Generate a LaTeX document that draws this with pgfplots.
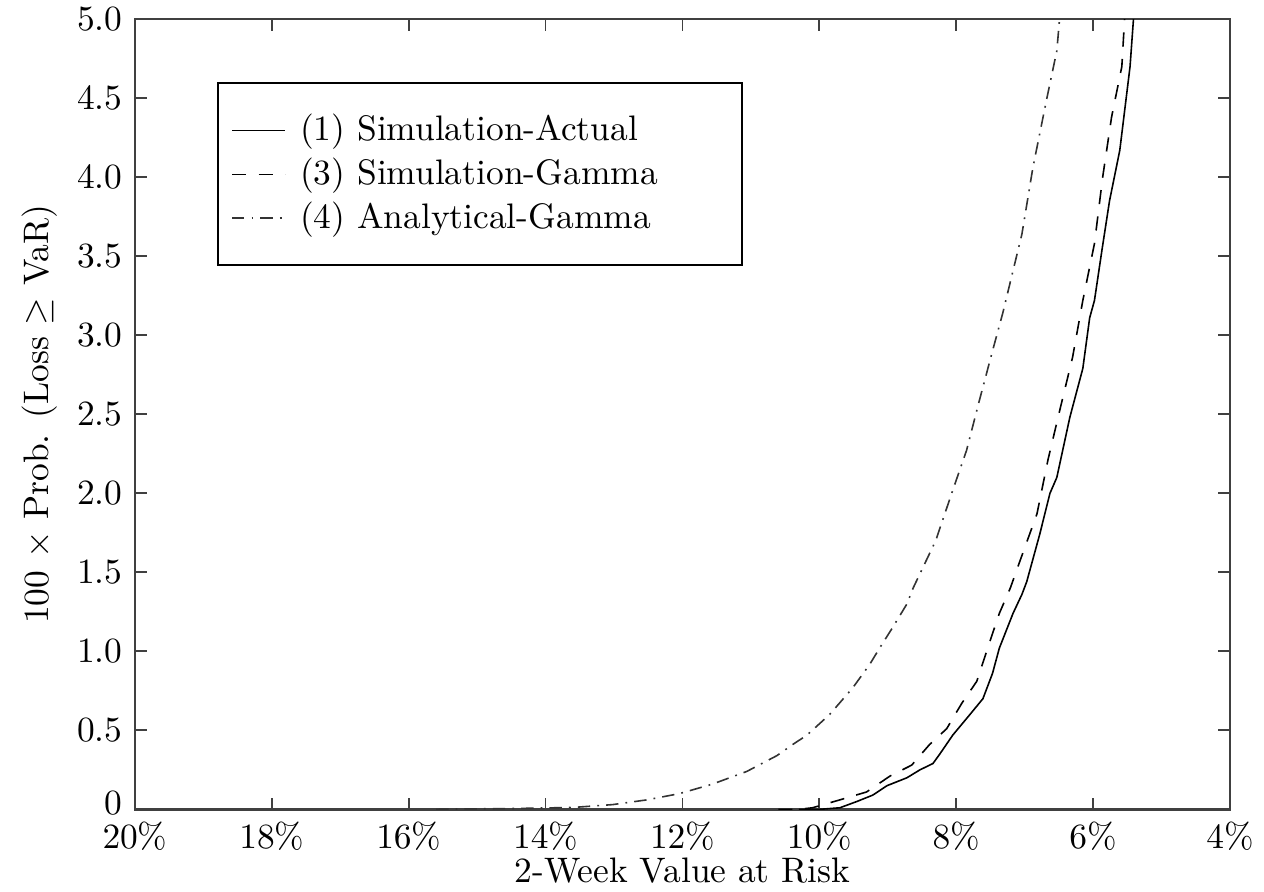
\documentclass[border=0pt]{standalone}
\usepackage{pgfplots}
\pgfplotsset{compat=1.18}

\begin{document}
\begin{tikzpicture}
\begin{axis}[
  scale only axis, width=309pt, height=223pt,
  x dir=reverse,
  xmin=4, xmax=20, ymin=0, ymax=5,
  xtick={4,6,8,10,12,14,16,18,20},
  xticklabel={\pgfmathprintnumber{\tick}\%},
  ytick={0,0.5,1,1.5,2,2.5,3,3.5,4,4.5,5},
  yticklabels={\raisebox{4pt}{0},0.5,1.0,1.5,2.0,2.5,3.0,3.5,4.0,4.5,5.0},
  xlabel={2-Week Value at Risk},
  ylabel={100 $\times$ Prob. (Loss $\geq$ VaR)},
  xlabel style={at={(axis description cs:0.5,-0.078)}, anchor=center},
  ylabel style={at={(axis description cs:-0.087,0.5)}, anchor=center},
  axis line style={line width=0.7pt, black!75},
  major tick length=3.3pt,
  tick style={black!75, line width=0.5pt},
  legend cell align=left,
  legend style={at={(axis description cs:0.075,0.92)}, anchor=north west,
    draw=black, line width=0.6pt, inner xsep=3.7pt, inner ysep=7.75pt,
    row sep=1.4pt, nodes={inner xsep=4pt, inner ysep=1pt, text depth=0.15em},
    /tikz/every even column/.append style={text width=117pt}},
  legend image code/.code={\draw[#1] (0pt,0pt) -- (15pt,0pt);},
]
% (1) simulation, actual returns
\addplot[black, line width=0.45pt] coordinates {
(10.3,0) (10.0,0.0) (9.70,0.01) (9.45,0.05) (9.22,0.09) (9.01,0.15)
(8.72,0.20) (8.53,0.25) (8.34,0.29) (8.24,0.35) (8.05,0.47) (7.80,0.60)
(7.61,0.70) (7.47,0.86) (7.37,1.02) (7.17,1.24) (7.04,1.36) (6.97,1.44)
(6.78,1.74) (6.63,2.00) (6.53,2.10) (6.34,2.48) (6.15,2.79) (6.05,3.11)
(5.98,3.22) (5.87,3.54) (5.76,3.85) (5.61,4.17) (5.46,4.70) (5.41,5.0)
};
\addlegendentry{(1) Simulation-Actual}
% (3) simulation, gamma approximation
\addplot[black, line width=0.45pt, dash pattern=on 4pt off 3.5pt] coordinates {
(10.6,0) (10.3,0.0) (10.1,0.01) (9.70,0.06) (9.31,0.11) (8.97,0.21)
(8.65,0.28) (8.39,0.41) (8.14,0.51) (7.92,0.67) (7.70,0.81) (7.51,1.06)
(7.37,1.24) (7.21,1.40) (7.07,1.57) (6.82,1.87) (6.66,2.21) (6.49,2.52)
(6.30,2.86) (6.15,3.22) (5.98,3.58) (5.86,4.0) (5.73,4.38) (5.58,4.70)
(5.54,5.0)
};
\addlegendentry{(3) Simulation-Gamma}
% (4) analytical, gamma approximation
\addplot[black!80, line width=0.45pt, dash pattern=on 3.5pt off 2pt on 0.5pt off 2pt] coordinates {
(15.6,0) (15.35,0.002) (14.5,0.005) (13.6,0.012) (13.02,0.03) (12.52,0.06)
(12.04,0.10) (11.56,0.16) (11.06,0.24) (10.62,0.34) (10.39,0.41) (10.18,0.47)
(9.85,0.60) (9.51,0.77) (9.26,0.92) (9.12,1.02) (8.93,1.15) (8.72,1.30)
(8.63,1.40) (8.30,1.70) (8.05,2.02) (7.85,2.27) (7.66,2.59) (7.47,2.90)
(7.32,3.14) (7.04,3.64) (6.88,4.06) (6.68,4.49) (6.53,4.80) (6.49,5.0)
};
\addlegendentry{(4) Analytical-Gamma}
\coordinate (bl) at (axis description cs:0,0);
\coordinate (tr) at (axis description cs:1,1);
\end{axis}
\pgfresetboundingbox
\path[use as bounding box] ([xshift=-38.1pt,yshift=-23.2pt]bl) rectangle ([xshift=9.6pt,yshift=5.4pt]tr);
\end{tikzpicture}
\end{document}
